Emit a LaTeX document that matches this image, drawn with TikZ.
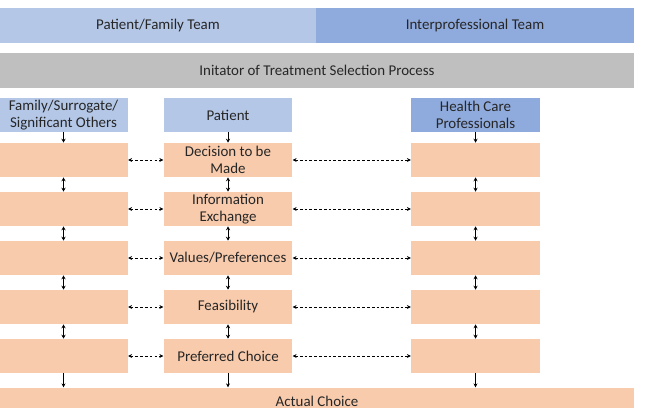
\documentclass[tikz,border=0pt]{standalone}
\usepackage{fontspec}
\setmainfont{Carlito}
\usetikzlibrary{arrows.meta}

\definecolor{famblue}{HTML}{B4C7E7}
\definecolor{problue}{HTML}{8FAADC}
\definecolor{initgray}{HTML}{BFBFBF}
\definecolor{stepfill}{HTML}{F8CBAD}

\begin{document}
\begin{tikzpicture}[
        x=0.75pt, y=-0.75pt,
        every node/.style={font=\fontsize{11.2}{12.8}\selectfont, text=black!85, inner sep=0pt, align=center},
        band/.style={rectangle, minimum height=26pt},
        header/.style={rectangle, minimum width=96.5pt, minimum height=25.5pt},
        stage/.style={rectangle, fill=stepfill, minimum width=96.5pt, minimum height=25.5pt},
        down_arrow/.style={line width=0.5pt, -{Stealth[length=3pt, width=3pt]}},
        both_arrow/.style={line width=0.5pt, {Stealth[length=3pt, width=3pt]}-{Stealth[length=3pt, width=3pt]}},
        talk_arrow/.style={line width=0.5pt, dash pattern=on 2pt off 1.6pt, {Stealth[length=3pt, width=3pt]}-{Stealth[length=3pt, width=3pt]}}
        ]
        \useasboundingbox (0,0) rectangle (645,407);

        % Team bands
        \node[band, fill=famblue, minimum width=237pt] (FamTeam) at (158, 25.5) {Patient/Family Team};
        \node[band, fill=problue, minimum width=238.5pt] (ProTeam) at (475, 25.5) {Interprofessional Team};
        \node[band, fill=initgray, minimum width=475.5pt] (Init) at (317, 70.5) {Initator of Treatment Selection Process};

        % Column headers
        \node[header, fill=famblue] (Fam) at (63.5, 115) {Family/Surrogate/\\Significant Others};
        \node[header, fill=famblue] (Pat) at (228, 115) {Patient};
        \node[header, fill=problue] (HCP) at (475.5, 115) {Health Care\\Professionals};

        % Family column
        \node[stage] (F1) at (63.5, 160) {};
        \node[stage] (F2) at (63.5, 209) {};
        \node[stage] (F3) at (63.5, 258) {};
        \node[stage] (F4) at (63.5, 307) {};
        \node[stage] (F5) at (63.5, 356) {};

        % Patient column
        \node[stage] (P1) at (228, 160) {Decision to be\\Made};
        \node[stage] (P2) at (228, 209) {Information\\Exchange};
        \node[stage] (P3) at (228, 258) {Values/Preferences};
        \node[stage] (P4) at (228, 307) {Feasibility};
        \node[stage] (P5) at (228, 356) {Preferred Choice};

        % Professionals column
        \node[stage] (H1) at (475.5, 160) {};
        \node[stage] (H2) at (475.5, 209) {};
        \node[stage] (H3) at (475.5, 258) {};
        \node[stage] (H4) at (475.5, 307) {};
        \node[stage] (H5) at (475.5, 356) {};

        % Outcome
        \node[band, fill=stepfill, minimum width=475.5pt, minimum height=20pt] (Actual) at (317, 401) {Actual Choice};

        % Headers into the first stage
        \draw[down_arrow] (Fam) -- (F1);
        \draw[down_arrow] (Pat) -- (P1);
        \draw[down_arrow] (HCP) -- (H1);

        % Between stages
        \draw[both_arrow] (F1) -- (F2);
        \draw[both_arrow] (F2) -- (F3);
        \draw[both_arrow] (F3) -- (F4);
        \draw[both_arrow] (F4) -- (F5);
        \draw[both_arrow] (P1) -- (P2);
        \draw[both_arrow] (P2) -- (P3);
        \draw[both_arrow] (P3) -- (P4);
        \draw[both_arrow] (P4) -- (P5);
        \draw[both_arrow] (H1) -- (H2);
        \draw[both_arrow] (H2) -- (H3);
        \draw[both_arrow] (H3) -- (H4);
        \draw[both_arrow] (H4) -- (H5);

        % Family <-> patient <-> professionals (dashed)
        \draw[talk_arrow] (F1) -- (P1);
        \draw[talk_arrow] (F2) -- (P2);
        \draw[talk_arrow] (F3) -- (P3);
        \draw[talk_arrow] (F4) -- (P4);
        \draw[talk_arrow] (F5) -- (P5);
        \draw[talk_arrow] (P1) -- (H1);
        \draw[talk_arrow] (P2) -- (H2);
        \draw[talk_arrow] (P3) -- (H3);
        \draw[talk_arrow] (P4) -- (H4);
        \draw[talk_arrow] (P5) -- (H5);

        % Last stage to the actual choice
        \draw[down_arrow] (F5) -- (F5 |- Actual.north);
        \draw[down_arrow] (P5) -- (P5 |- Actual.north);
        \draw[down_arrow] (H5) -- (H5 |- Actual.north);

    \end{tikzpicture}
\end{document}
